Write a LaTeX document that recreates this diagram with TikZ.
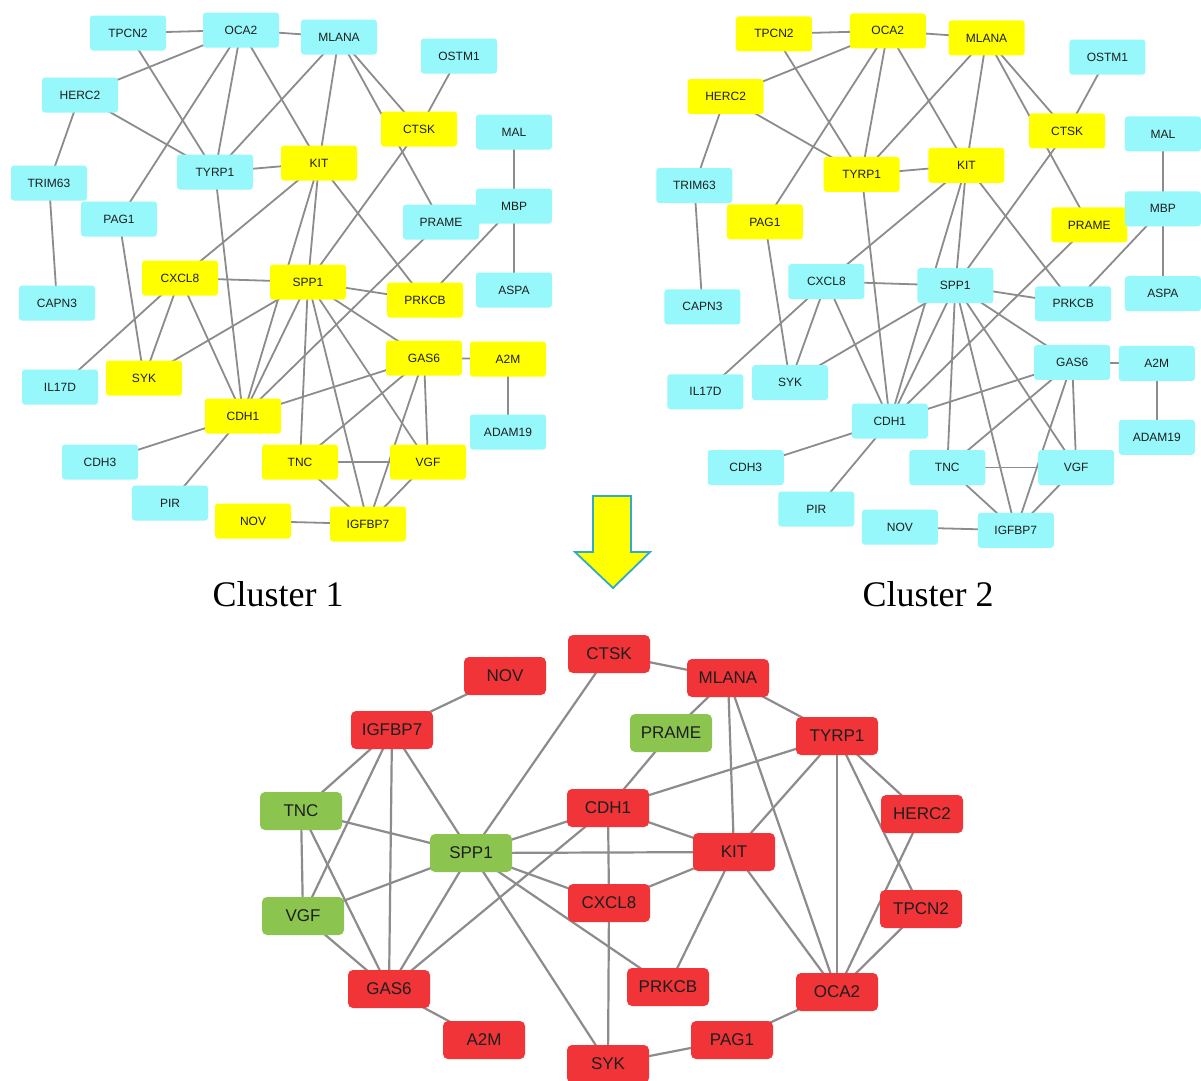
\documentclass[tikz,border=0pt]{standalone}
\usepackage{fontspec}
\setmainfont{Liberation Sans}
\newfontfamily\titlefont{Liberation Serif}
\usetikzlibrary{backgrounds}
\definecolor{cy}{RGB}{150,248,250}
\definecolor{yl}{RGB}{255,255,0}
\definecolor{rd}{RGB}{240,52,55}
\definecolor{gn}{RGB}{139,197,80}
\definecolor{edgegray}{RGB}{140,140,140}
\definecolor{arrowline}{RGB}{50,170,200}
\definecolor{txt}{RGB}{30,30,30}
\tikzset{
  topbox/.style={rectangle, rounded corners=3pt, minimum width=76pt, minimum height=35pt, inner sep=0pt, font=\fontsize{12}{14}\selectfont, text=txt},
  botbox/.style={rectangle, rounded corners=5pt, minimum width=82pt, minimum height=38pt, inner sep=0pt, font=\fontsize{17}{20}\selectfont, text=txt},
  topedge/.style={draw=edgegray, line width=1.8pt},
  botedge/.style={draw=edgegray, line width=2.2pt},
  title/.style={font=\titlefont\fontsize{36}{40}\selectfont, text=black}
}
\begin{document}
\begin{tikzpicture}[x=1pt,y=-1pt]
\useasboundingbox (0,0) rectangle (1201,1080);
\begin{scope}[on background layer]
\fill[white] (0,0) rectangle (1201,1080);
\end{scope}
% clusters 1 and 2
\foreach \n/\x/\y/\ca/\cb in {
 TPCN2/128/33/cy/yl, OCA2/241/30/cy/yl, MLANA/339/37/cy/yl, OSTM1/459/56/cy/cy,
 HERC2/80/95/cy/yl, CTSK/419/129/yl/yl, MAL/514/132/cy/cy, TRIM63/49/183/cy/cy,
 TYRP1/215/172/cy/yl, KIT/319/163/yl/yl, PAG1/119/219/cy/yl, PRAME/441/222/cy/yl,
 MBP/514/206/cy/cy, CXCL8/180/278/yl/cy, SPP1/308/282/yl/cy, PRKCB/425/300/yl/cy,
 ASPA/514/290/cy/cy, CAPN3/57/303/cy/cy, IL17D/60/387/cy/cy, SYK/144/378/yl/cy,
 GAS6/424/358/yl/cy, A2M/508/359/yl/cy, CDH1/243/416/yl/cy, ADAM19/508/432/cy/cy,
 CDH3/100/462/cy/cy, TNC/300/462/yl/cy, VGF/428/462/yl/cy, PIR/170/503/cy/cy,
 NOV/253/521/yl/cy, IGFBP7/368/524/yl/cy}
{
  \node[topbox, fill=\ca] (a\n) at (\x,\y) {\n};
  \node[topbox, fill=\cb] (b\n) at ({645+1.0075*\x},{0.5+1.011*\y}) {\n};
}
\begin{scope}[on background layer]
\foreach \p/\q in {
 TPCN2/OCA2, TPCN2/TYRP1, OCA2/MLANA, OCA2/HERC2, OCA2/TYRP1, OCA2/PAG1, OCA2/KIT,
 MLANA/TYRP1, MLANA/KIT, MLANA/CTSK, MLANA/PRAME, OSTM1/CTSK, HERC2/TYRP1,
 HERC2/TRIM63, TRIM63/CAPN3, TYRP1/KIT, TYRP1/CDH1, PAG1/SYK, KIT/CXCL8, KIT/SPP1,
 KIT/CDH1, KIT/PRKCB, CTSK/SPP1, PRAME/CDH1, MAL/MBP, MBP/ASPA, MBP/PRKCB,
 CXCL8/SPP1, CXCL8/IL17D, CXCL8/SYK, CXCL8/CDH1, SPP1/PRKCB, SPP1/SYK, SPP1/CDH1,
 SPP1/TNC, SPP1/IGFBP7, SPP1/VGF, SPP1/GAS6, GAS6/CDH1, GAS6/TNC, GAS6/IGFBP7,
 GAS6/VGF, GAS6/A2M, A2M/ADAM19, TNC/VGF, TNC/IGFBP7, VGF/IGFBP7, NOV/IGFBP7,
 CDH1/CDH3, CDH1/PIR}
{
  \draw[topedge] (a\p.center) -- (a\q.center);
  \draw[topedge] (b\p.center) -- (b\q.center);
}
\end{scope}
% titles
\node[title] (t1) at (278,594) {Cluster 1};
\node[title] (t2) at (928,594) {Cluster 2};
% arrow
\draw[arrowline, line width=1.8pt, fill=yl, line join=miter]
  (593,496) -- (631,496) -- (631,552) -- (650,552) -- (613,588) -- (575,552) -- (593,552) -- cycle;
% bottom network
\foreach \n/\x/\y/\c in {
 NOV/505/676/rd, CTSK/609/654/rd, MLANA/728/678/rd, IGFBP7/392/730/rd,
 PRAME/671/733/gn, TYRP1/837/736/rd, TNC/301/811/gn, CDH1/608/808/rd,
 HERC2/922/814/rd, SPP1/471/853/gn, KIT/734/852/rd, VGF/303/916/gn,
 CXCL8/609/903/rd, TPCN2/921/909/rd, GAS6/389/989/rd, PRKCB/668/987/rd,
 OCA2/837/992/rd, A2M/484/1040/rd, PAG1/732/1040/rd, SYK/608/1064/rd}
{
  \node[botbox, fill=\c] (c\n) at (\x,\y) {\n};
}
\begin{scope}[on background layer]
\foreach \p/\q in {
 NOV/IGFBP7, CTSK/MLANA, CTSK/SPP1, MLANA/PRAME, MLANA/TYRP1, MLANA/KIT, MLANA/OCA2,
 PRAME/CDH1, TYRP1/CDH1, TYRP1/KIT, TYRP1/OCA2, TYRP1/HERC2, TYRP1/TPCN2,
 HERC2/OCA2, TPCN2/OCA2, KIT/OCA2, KIT/PRKCB, KIT/CXCL8, KIT/CDH1, KIT/SPP1,
 CDH1/SPP1, CDH1/CXCL8, CDH1/GAS6, CXCL8/SPP1, CXCL8/SYK, SPP1/PRKCB, SPP1/SYK,
 SPP1/TNC, SPP1/VGF, SPP1/GAS6, SPP1/IGFBP7, IGFBP7/TNC, IGFBP7/VGF, IGFBP7/GAS6,
 TNC/VGF, TNC/GAS6, VGF/GAS6, GAS6/A2M, SYK/PAG1, PAG1/OCA2}
{
  \draw[botedge] (c\p.center) -- (c\q.center);
}
\end{scope}
\end{tikzpicture}
\end{document}
